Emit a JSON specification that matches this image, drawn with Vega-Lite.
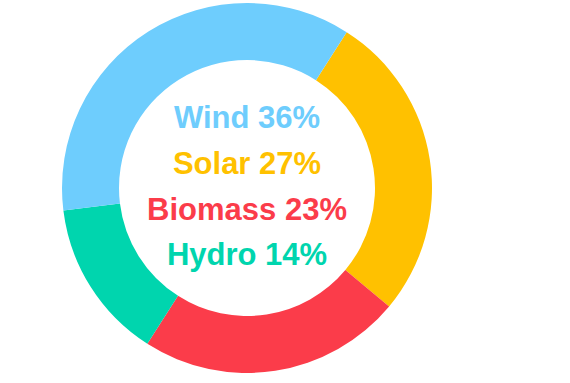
{
  "$schema": "https://vega.github.io/schema/vega-lite/v6.json",
  "width": 494,
  "height": 376,
  "padding": 0,
  "autosize": "none",
  "background": "white",
  "view": {"stroke": null},
  "data": {"values": [
    {"source": "Solar", "value": 27, "label": "Solar 27%", "ord": 2, "arcord": 1},
    {"source": "Biomass", "value": 23, "label": "Biomass 23%", "ord": 3, "arcord": 2},
    {"source": "Hydro", "value": 14, "label": "Hydro 14%", "ord": 4, "arcord": 3},
    {"source": "Wind", "value": 36, "label": "Wind 36%", "ord": 1, "arcord": 4}
  ]},
  "layer": [
    {
      "mark": {"type": "arc", "outerRadius": 185, "innerRadius": 128},
      "encoding": {
        "theta": {"field": "value", "type": "quantitative", "stack": true, "scale": {"range": [0.569, 6.852]}},
        "order": {"field": "arcord", "type": "quantitative"},
        "color": {"field": "source", "type": "nominal", "legend": null,
          "scale": {"domain": ["Wind", "Solar", "Biomass", "Hydro"], "range": ["#6ecdfd", "#ffc100", "#fb3c4a", "#00d5ae"]}}
      }
    },
    {
      "mark": {"type": "text", "font": "Liberation Sans", "fontWeight": "bold", "fontSize": 31, "baseline": "alphabetic", "align": "center"},
      "encoding": {
        "y": {"field": "ord", "type": "quantitative", "axis": null,
          "scale": {"domain": [-1.807, 6.42], "reverse": true, "nice": false, "zero": false}},
        "text": {"field": "label"},
        "color": {"field": "source", "type": "nominal", "legend": null}
      }
    }
  ]
}
